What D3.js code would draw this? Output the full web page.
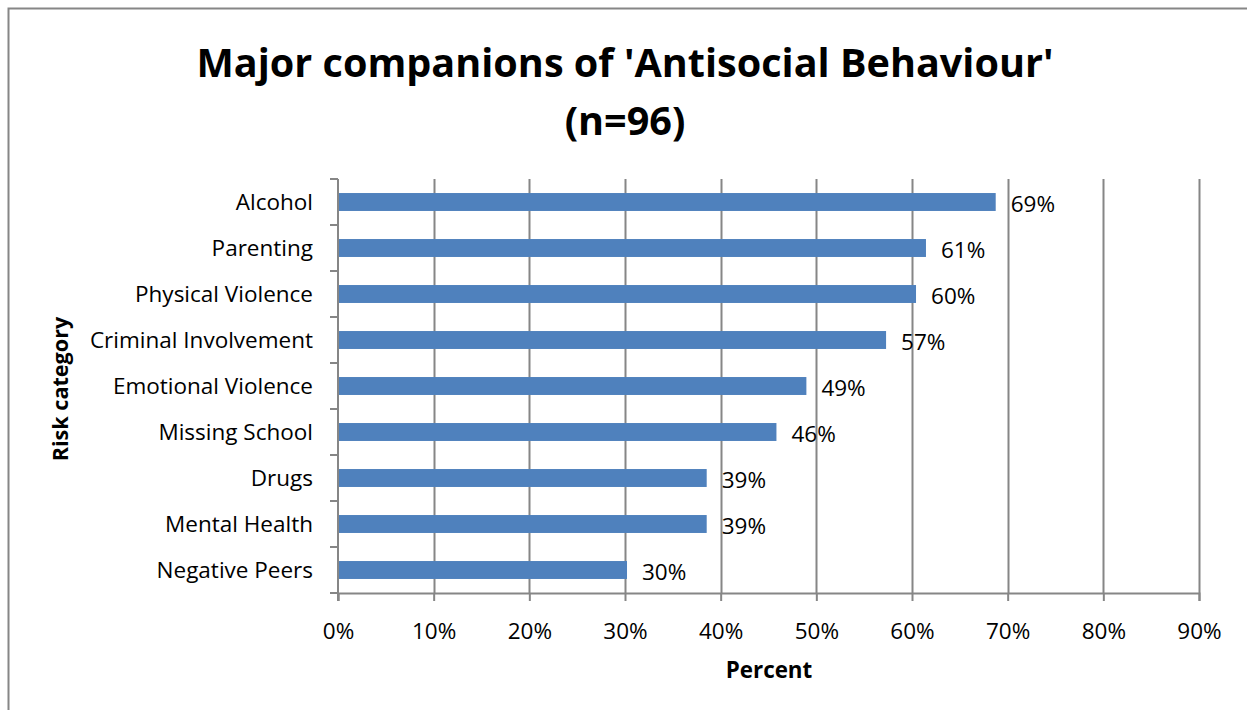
<!DOCTYPE html>
<html>
<head>
<meta charset="utf-8">
<script src="https://cdn.jsdelivr.net/npm/d3@7"></script>
<style>
  html, body { margin: 0; padding: 0; background: #fff; }
  svg { display: block; }
  text { font-family: "Open Sans", "Noto Sans", sans-serif; fill: #000; }
</style>
</head>
<body>
<svg id="chart" width="1247" height="710"></svg>
<script>
// Risk categories, top to bottom
const categories = [
  "Alcohol", "Parenting", "Physical Violence", "Criminal Involvement",
  "Emotional Violence", "Missing School", "Drugs", "Mental Health", "Negative Peers"
];
// Share of the 96 cases with each companion risk (percent)
const values = [68.75, 61.46, 60.42, 57.29, 48.96, 45.83, 38.54, 38.54, 30.21];
// Value labels shown at the bar ends
const valueLabels = ["69%", "61%", "60%", "57%", "49%", "46%", "39%", "39%", "30%"];
// X axis ticks
const xTicks = [0, 10, 20, 30, 40, 50, 60, 70, 80, 90];

const titleLines = ["Major companions of 'Antisocial Behaviour'", "(n=96)"];
const xTitle = "Percent";
const yTitle = "Risk category";

const svg = d3.select("#chart");
const W = 1247, H = 710;
const plot = { left: 338, right: 1199, top: 179, bottom: 593 };
const gridColor = "#868686";
const labelSize = 22.5;

// Chart frame
svg.append("rect")
  .attr("x", 8.5).attr("y", 8.5)
  .attr("width", W + 20).attr("height", H + 20)
  .attr("fill", "#fff").attr("stroke", "#868686").attr("stroke-width", 2);

const x = d3.scaleLinear().domain([0, 90]).range([plot.left, plot.right]);
const y = d3.scaleBand().domain(categories).range([plot.top, plot.bottom])
  .paddingInner(0.61).paddingOuter(0.305);
const yTicksScale = d3.scalePoint().domain(d3.range(categories.length + 1))
  .range([plot.top, plot.bottom]);

// Vertical gridlines
svg.append("g").selectAll("line").data(xTicks.slice(1)).join("line")
  .attr("x1", d => Math.round(x(d)) + 0.5).attr("x2", d => Math.round(x(d)) + 0.5)
  .attr("y1", plot.top).attr("y2", plot.bottom)
  .attr("stroke", gridColor).attr("stroke-width", 2);

// Bars
svg.append("g").selectAll("rect").data(categories).join("rect")
  .attr("x", x(0))
  .attr("y", d => y(d))
  .attr("width", (d, i) => x(values[i]) - x(0))
  .attr("height", y.bandwidth())
  .attr("fill", "#4F81BD");

// Value labels
svg.append("g").selectAll("text").data(categories).join("text")
  .attr("x", (d, i) => x(values[i]) + 15)
  .attr("y", d => y(d) + y.bandwidth() / 2 + 2)
  .attr("dy", "0.36em")
  .attr("font-size", labelSize)
  .text((d, i) => valueLabels[i]);

// X axis
const xAxis = svg.append("g")
  .attr("transform", `translate(0,${plot.bottom})`)
  .call(d3.axisBottom(x).tickValues(xTicks).tickFormat(d => d + "%").tickSize(8).tickPadding(22));
xAxis.select(".domain").attr("stroke", gridColor).attr("stroke-width", 2);
xAxis.selectAll(".tick line").attr("stroke", gridColor).attr("stroke-width", 2);
xAxis.selectAll("text").attr("font-size", labelSize).attr("fill", "#000")
  .style("font-family", "'Open Sans', 'Noto Sans', sans-serif");

// Y axis line and category boundary ticks
svg.append("line")
  .attr("x1", plot.left).attr("x2", plot.left)
  .attr("y1", plot.top).attr("y2", plot.bottom + 8)
  .attr("stroke", gridColor).attr("stroke-width", 2);
svg.append("g").selectAll("line").data(yTicksScale.domain()).join("line")
  .attr("x1", plot.left - 8).attr("x2", plot.left)
  .attr("y1", d => yTicksScale(d)).attr("y2", d => yTicksScale(d))
  .attr("stroke", gridColor).attr("stroke-width", 2);

// Category labels
svg.append("g").selectAll("text").data(categories).join("text")
  .attr("x", 313)
  .attr("y", d => y(d) + y.bandwidth() / 2)
  .attr("dy", "0.36em")
  .attr("text-anchor", "end")
  .attr("font-size", labelSize)
  .text(d => d);

// Title
svg.append("g").selectAll("text").data(titleLines).join("text")
  .attr("x", 625)
  .attr("y", (d, i) => 77 + i * 58)
  .attr("text-anchor", "middle")
  .attr("font-size", 39.6)
  .attr("font-weight", "bold")
  .text(d => d);

// Axis titles
svg.append("text")
  .attr("x", 769).attr("y", 678)
  .attr("text-anchor", "middle")
  .attr("font-size", 22.4).attr("font-weight", "bold")
  .text(xTitle);
svg.append("text")
  .attr("transform", "translate(68,389) rotate(-90)")
  .attr("text-anchor", "middle")
  .attr("font-size", 21.6).attr("font-weight", "bold")
  .text(yTitle);
</script>
</body>
</html>
